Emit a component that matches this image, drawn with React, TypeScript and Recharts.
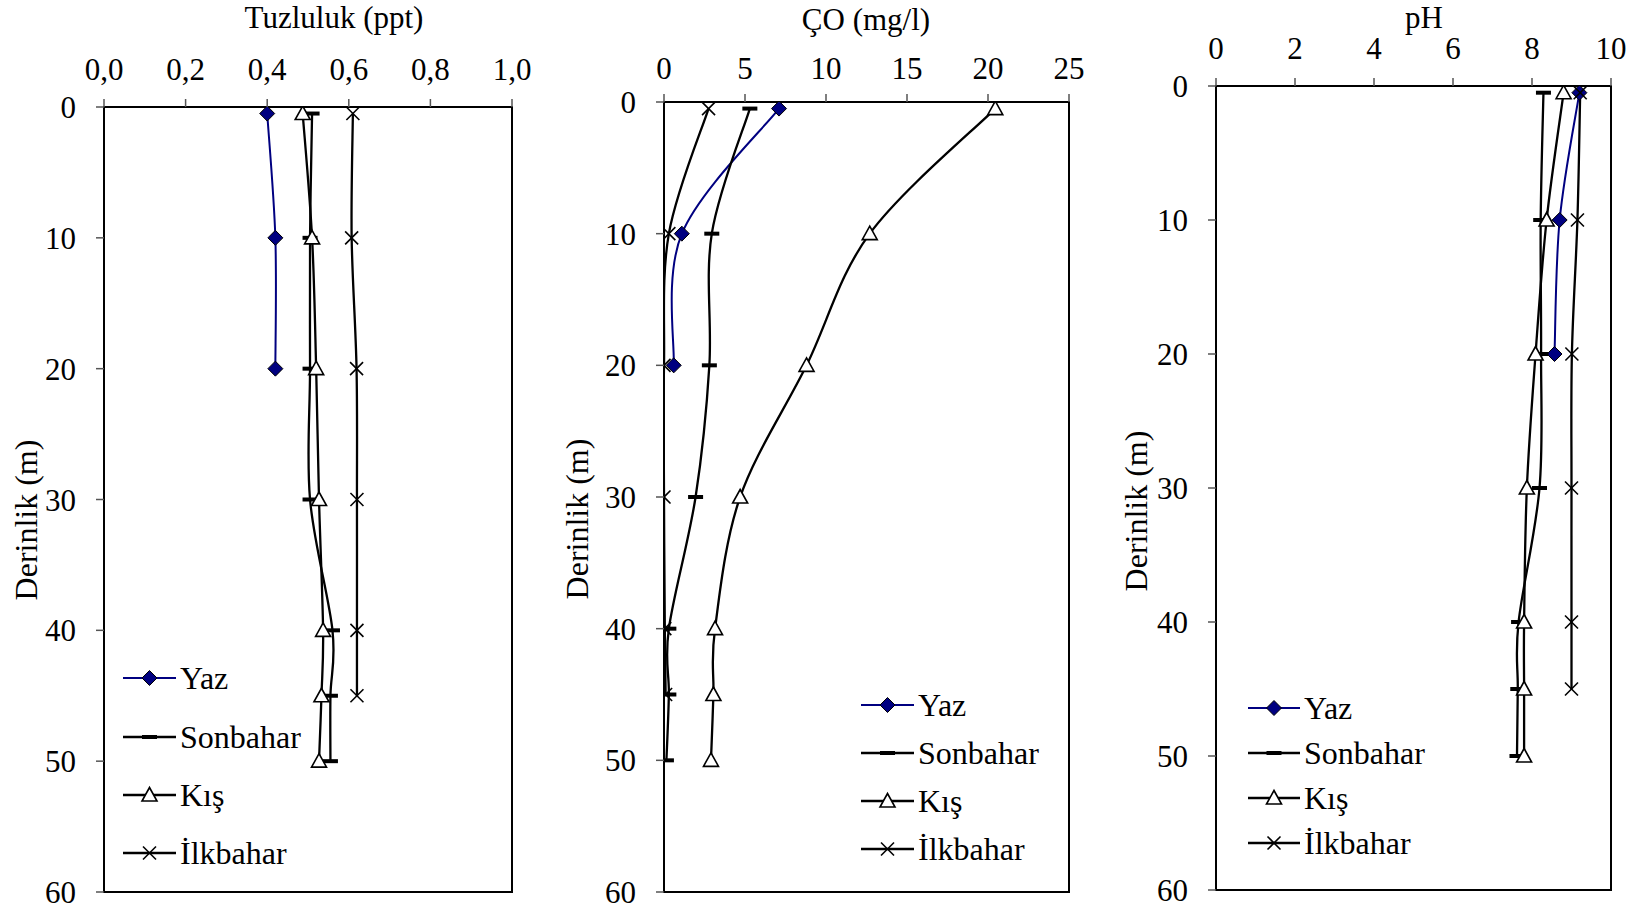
import React from 'react';
import { LineChart, Line, XAxis, YAxis, ReferenceArea, Legend, Label } from 'recharts';

// Sampling depths (m); surface samples were taken at 0.5 m
const depthsFull = [0.5, 10, 20, 30, 40, 45, 50];
const depthsYaz = [0.5, 10, 20];
const depthsIlk = [0.5, 10, 20, 30, 40, 45];

const seasonNames = ['Yaz', 'Sonbahar', 'Kış', 'İlkbahar'];

// Tuzluluk (ppt)
const tuzYaz = [0.40, 0.42, 0.42];
const tuzSonbahar = [0.51, 0.505, 0.505, 0.505, 0.56, 0.555, 0.555];
const tuzKis = [0.487, 0.51, 0.52, 0.527, 0.537, 0.533, 0.527];
const tuzIlkbahar = [0.61, 0.607, 0.619, 0.62, 0.62, 0.62];

// ÇO (mg/l)
const coYaz = [7.1, 1.1, 0.6];
const coSonbahar = [5.3, 2.95, 2.8, 1.95, 0.3, 0.3, 0.15];
const coKis = [20.45, 12.7, 8.8, 4.7, 3.15, 3.05, 2.9];
const coIlkbahar = [2.75, 0.3, 0.0, 0.0, 0.05, 0.1];

// pH
const phYaz = [9.2, 8.7, 8.57];
const phSonbahar = [8.29, 8.22, 8.23, 8.19, 7.66, 7.64, 7.62];
const phKis = [8.8, 8.37, 8.09, 7.87, 7.8, 7.8, 7.8];
const phIlkbahar = [9.22, 9.15, 9.01, 9.0, 9.0, 9.0];

// Axis ticks
const depthTicks = [0, 10, 20, 30, 40, 50, 60];
const tuzTicks = [0, 0.2, 0.4, 0.6, 0.8, 1.0];
const coTicks = [0, 5, 10, 15, 20, 25];
const phTicks = [0, 2, 4, 6, 8, 10];

const FONT = '"Liberation Serif", "Times New Roman", serif';
const NAVY = '#000080';

const rows = (depths: number[], values: number[]) => depths.map((d, i) => ({ d, v: values[i] }));

// Smoothed line (Catmull-Rom Bezier through every point)
const smoothCurve = (context: any) => {
  let pts: number[][] = [];
  return {
    areaStart() {},
    areaEnd() {},
    lineStart() {
      pts = [];
    },
    point(x: number, y: number) {
      pts.push([+x, +y]);
    },
    lineEnd() {
      const n = pts.length;
      if (!n) return;
      context.moveTo(pts[0][0], pts[0][1]);
      for (let i = 0; i < n - 1; i++) {
        const p0 = pts[Math.max(i - 1, 0)];
        const p1 = pts[i];
        const p2 = pts[i + 1];
        const p3 = pts[Math.min(i + 2, n - 1)];
        context.bezierCurveTo(
          p1[0] + (p2[0] - p0[0]) / 6,
          p1[1] + (p2[1] - p0[1]) / 6,
          p2[0] - (p3[0] - p1[0]) / 6,
          p2[1] - (p3[1] - p1[1]) / 6,
          p2[0],
          p2[1]
        );
      }
    },
  };
};

type MarkerKind = 'diamond' | 'dash' | 'triangle' | 'cross';

const Marker = ({ kind, cx, cy }: { kind: MarkerKind; cx: number; cy: number }) => {
  if (kind === 'diamond') {
    return (
      <path
        d={`M${cx},${cy - 7.5}L${cx + 7.5},${cy}L${cx},${cy + 7.5}L${cx - 7.5},${cy}Z`}
        fill={NAVY}
        stroke="#000"
        strokeWidth={1}
      />
    );
  }
  if (kind === 'dash') {
    return <rect x={cx - 7.5} y={cy - 2} width={15} height={4} fill="#000" />;
  }
  if (kind === 'triangle') {
    return (
      <path
        d={`M${cx},${cy - 7.5}L${cx + 7.5},${cy + 6}L${cx - 7.5},${cy + 6}Z`}
        fill="#fff"
        stroke="#000"
        strokeWidth={1.6}
      />
    );
  }
  return (
    <g stroke="#000" strokeWidth={1.6}>
      <line x1={cx - 6.5} y1={cy - 6.5} x2={cx + 6.5} y2={cy + 6.5} />
      <line x1={cx - 6.5} y1={cy + 6.5} x2={cx + 6.5} y2={cy - 6.5} />
    </g>
  );
};

const seasonStyles: { kind: MarkerKind; color: string; width: number }[] = [
  { kind: 'diamond', color: NAVY, width: 2 },
  { kind: 'dash', color: '#000', width: 2.3 },
  { kind: 'triangle', color: '#000', width: 2.3 },
  { kind: 'cross', color: '#000', width: 2.3 },
];

interface PanelConfig {
  id: string;
  left: number;
  width: number;
  margin: { top: number; right: number; bottom: number; left: number };
  domain: [number, number];
  ticks: number[];
  format: (v: number) => string;
  xTickMargin: number;
  title: string;
  titleX: number;
  titleY: number;
  yLabelX: number;
  yLabelY: number;
  series: { d: number; v: number }[][];
  legendLineX1: number;
  legendLineX2: number;
  legendTextX: number;
  legendRows: number[];
}

const panels: PanelConfig[] = [
  {
    id: 'tuz',
    left: 0,
    width: 560,
    margin: { top: 57, right: 48, bottom: 20, left: 44 },
    domain: [0, 1],
    ticks: tuzTicks,
    format: (v) => v.toFixed(1).replace('.', ','),
    xTickMargin: 19,
    title: 'Tuzluluk (ppt)',
    titleX: 334,
    titleY: 28,
    yLabelX: 26,
    yLabelY: 520,
    series: [
      rows(depthsYaz, tuzYaz),
      rows(depthsFull, tuzSonbahar),
      rows(depthsFull, tuzKis),
      rows(depthsIlk, tuzIlkbahar),
    ],
    legendLineX1: 123,
    legendLineX2: 176,
    legendTextX: 180,
    legendRows: [678, 737, 795, 853],
  },
  {
    id: 'co',
    left: 545,
    width: 560,
    margin: { top: 52, right: 36, bottom: 20, left: 59 },
    domain: [0, 25],
    ticks: coTicks,
    format: (v) => String(v),
    xTickMargin: 15,
    title: 'ÇO (mg/l)',
    titleX: 321,
    titleY: 30,
    yLabelX: 32,
    yLabelY: 519,
    series: [
      rows(depthsYaz, coYaz),
      rows(depthsFull, coSonbahar),
      rows(depthsFull, coKis),
      rows(depthsIlk, coIlkbahar),
    ],
    legendLineX1: 861,
    legendLineX2: 914,
    legendTextX: 918,
    legendRows: [705, 753, 801, 849],
  },
  {
    id: 'ph',
    left: 1100,
    width: 537,
    margin: { top: 36, right: 26, bottom: 22, left: 56 },
    domain: [0, 10],
    ticks: phTicks,
    format: (v) => String(v),
    xTickMargin: 19,
    title: 'pH',
    titleX: 324,
    titleY: 28,
    yLabelX: 36,
    yLabelY: 511,
    series: [
      rows(depthsYaz, phYaz),
      rows(depthsFull, phSonbahar),
      rows(depthsFull, phKis),
      rows(depthsIlk, phIlkbahar),
    ],
    legendLineX1: 1248,
    legendLineX2: 1300,
    legendTextX: 1304,
    legendRows: [708, 753, 798, 843],
  },
];

const tickStyle = { fill: '#000', fontSize: 31, fontFamily: FONT };

const SeasonLegend = ({ cfg }: { cfg: PanelConfig }) => {
  const padX = 10;
  const padY = 30;
  const first = cfg.legendRows[0];
  const h = cfg.legendRows[cfg.legendRows.length - 1] - first + padY * 2;
  const lineLen = cfg.legendLineX2 - cfg.legendLineX1;
  return (
    <svg width={280} height={h} style={{ display: 'block', overflow: 'visible' }}>
      {seasonNames.map((name, i) => {
        const y = cfg.legendRows[i] - first + padY;
        const st = seasonStyles[i];
        return (
          <g key={name}>
            <line x1={padX} y1={y} x2={padX + lineLen} y2={y} stroke={st.color} strokeWidth={st.width} />
            <Marker kind={st.kind} cx={padX + lineLen / 2} cy={y} />
            <text
              x={padX + cfg.legendTextX - cfg.legendLineX1}
              y={y}
              dy="0.34em"
              fontFamily={FONT}
              fontSize={32}
              fill="#000"
            >
              {name}
            </text>
          </g>
        );
      })}
    </svg>
  );
};

const Panel = ({ cfg }: { cfg: PanelConfig }) => {
  const [x0, x1] = cfg.domain;
  return (
    <div style={{ position: 'absolute', left: cfg.left, top: 0 }}>
      <LineChart width={cfg.width} height={912} layout="vertical" margin={cfg.margin}>
        <ReferenceArea
          x1={x0}
          x2={x1}
          y1={0}
          y2={60}
          fill="none"
          fillOpacity={0}
          stroke="#000"
          strokeWidth={2}
          ifOverflow="visible"
        />
        <XAxis
          type="number"
          orientation="top"
          domain={cfg.domain}
          ticks={cfg.ticks}
          interval={0}
          tickFormatter={cfg.format}
          height={50}
          tickSize={8}
          tickMargin={cfg.xTickMargin}
          tick={tickStyle}
          tickLine={{ stroke: '#555', strokeWidth: 1.5 }}
          axisLine={{ stroke: '#000', strokeWidth: 2 }}
          allowDataOverflow
          label={
            <Label
              content={() => (
                <text x={cfg.titleX} y={cfg.titleY} textAnchor="middle" fontFamily={FONT} fontSize={31} fill="#000">
                  {cfg.title}
                </text>
              )}
            />
          }
        />
        <YAxis
          type="number"
          dataKey="d"
          domain={[0, 60]}
          ticks={depthTicks}
          interval={0}
          width={60}
          tickSize={8}
          tickMargin={20}
          tick={tickStyle}
          tickLine={{ stroke: '#555', strokeWidth: 1.5 }}
          axisLine={{ stroke: '#000', strokeWidth: 2 }}
          allowDataOverflow
          label={
            <Label
              content={() => (
                <text
                  x={cfg.yLabelX}
                  y={cfg.yLabelY}
                  textAnchor="middle"
                  dy="0.34em"
                  transform={`rotate(-90, ${cfg.yLabelX}, ${cfg.yLabelY})`}
                  fontFamily={FONT}
                  fontSize={32}
                  fill="#000"
                >
                  Derinlik (m)
                </text>
              )}
            />
          }
        />
        {cfg.series.map((data, i) => {
          const st = seasonStyles[i];
          return (
            <Line
              key={seasonNames[i]}
              name={seasonNames[i]}
              data={data}
              dataKey="v"
              type={smoothCurve as any}
              stroke={st.color}
              strokeWidth={st.width}
              isAnimationActive={false}
              activeDot={false}
              dot={(p: any) => (
                <g key={`${cfg.id}-${i}-${p.index}`}>
                  <Marker kind={st.kind} cx={p.cx} cy={p.cy} />
                </g>
              )}
            />
          );
        })}
        <Legend
          layout="vertical"
          align="center"
          verticalAlign="middle"
          wrapperStyle={{
            left: cfg.legendLineX1 - 10 - cfg.left,
            top: cfg.legendRows[0] - 30,
            width: 280,
          }}
          content={() => <SeasonLegend cfg={cfg} />}
        />
      </LineChart>
    </div>
  );
}

export default function App() {
  return (
    <div
      style={{
        position: 'absolute',
        left: 0,
        top: 0,
        width: 1637,
        height: 912,
        background: '#fff',
        overflow: 'hidden',
      }}
    >
      {panels.map((cfg) => (
        <Panel key={cfg.id} cfg={cfg} />
      ))}
    </div>
  );
}
